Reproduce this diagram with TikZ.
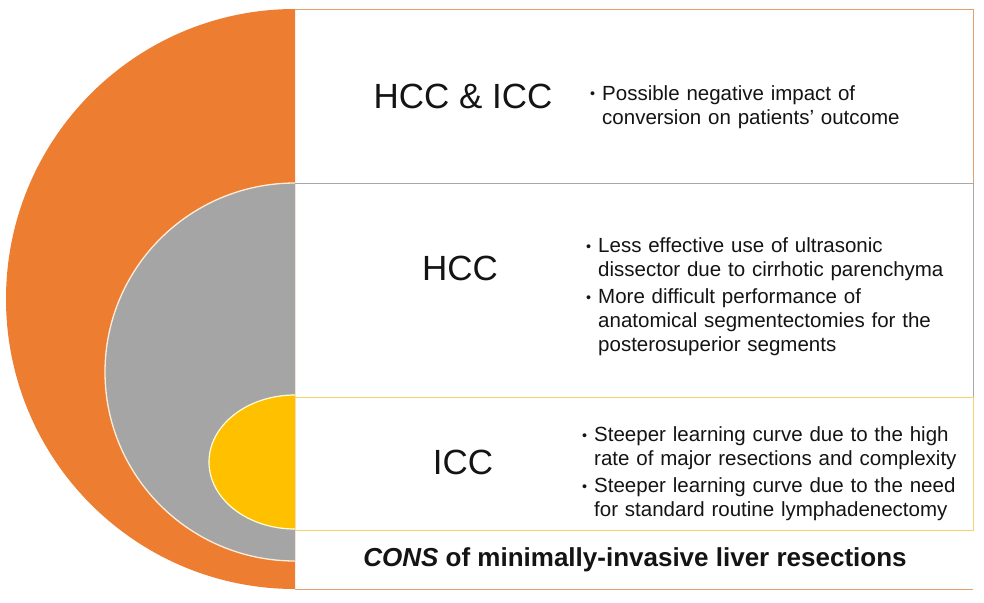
\documentclass[tikz,border=0pt]{standalone}
\usepackage{fontspec}
\usepackage{graphicx}
\setmainfont{Liberation Sans}
\definecolor{corange}{HTML}{ED7D31}
\definecolor{cgray}{HTML}{A5A5A5}
\definecolor{cyellow}{HTML}{FFC000}
\definecolor{obord}{HTML}{E0A070}
\definecolor{ybord}{HTML}{F5D36A}
\definecolor{gbord}{HTML}{A8A8A8}
\definecolor{txt}{HTML}{141414}
\newcommand{\bitem}[1]{\par\hangindent=12pt\relax\hangafter=1\relax\noindent\makebox[12pt][l]{\raisebox{1.5pt}{\scalebox{0.7}{•}}}#1\par}
\tikzset{
  head/.style={font=\fontsize{35}{40}\selectfont, text=txt, inner sep=0pt},
  btxt/.style={text width=390pt, inner sep=0pt, text=txt,
    font=\fontsize{20.5}{24}\selectfont\raggedright\setlength{\parskip}{3pt}},
  boxline/.style={line width=0.9pt}
}
\begin{document}
\begin{tikzpicture}[x=1pt,y=-1pt]
\useasboundingbox (0,0) rectangle (984,602);
\fill[white] (0,0) rectangle (984,602);
% nested half ellipses
\begin{scope}
  \clip (0,0) rectangle (295,602);
  \fill[corange] (295,299) ellipse[x radius=289, y radius=290];
  \filldraw[fill=cgray, draw=white!85!orange, line width=1.3pt] (295,372) ellipse[x radius=190, y radius=189];
  \filldraw[fill=cyellow, draw=white!85!yellow, line width=1.2pt] (295,462) ellipse[x radius=86, y radius=67];
\end{scope}
% box outlines
\draw[obord, boxline] (295,9.5) -- (973,9.5) -- (973,183);
\draw[gbord, boxline] (295,183) -- (973,183) -- (973,397);
\draw[ybord, boxline] (295,397) -- (973,397) -- (973,530) -- (295,530);
\draw[obord, boxline] (295,589) -- (973,589);
% headings
\node[head] (h1) at (463,96) {HCC \& ICC};
\node[head] (h2) at (460,268) {HCC};
\node[head] (h3) at (463,462) {ICC};
% bullets
\node[btxt, anchor=west] (b1) at (590,101) {\bitem{Possible negative impact of\newline conversion on patients’ outcome}};
\node[btxt, anchor=west] (b2) at (586,291) {\bitem{Less effective use of ultrasonic\newline dissector due to cirrhotic parenchyma}\bitem{More difficult performance of\newline anatomical segmentectomies for the\newline posterosuperior segments}};
\node[btxt, anchor=west] (b3) at (582,468) {\bitem{Steeper learning curve due to the high\newline rate of major resections and complexity}\bitem{Steeper learning curve due to the need\newline for standard routine lymphadenectomy}};
% caption
\node[inner sep=0pt, text=txt, font=\fontsize{26}{30}\selectfont\bfseries] (cap) at (635,560) {\textit{CONS} of minimally-invasive liver resections};
\end{tikzpicture}
\end{document}
